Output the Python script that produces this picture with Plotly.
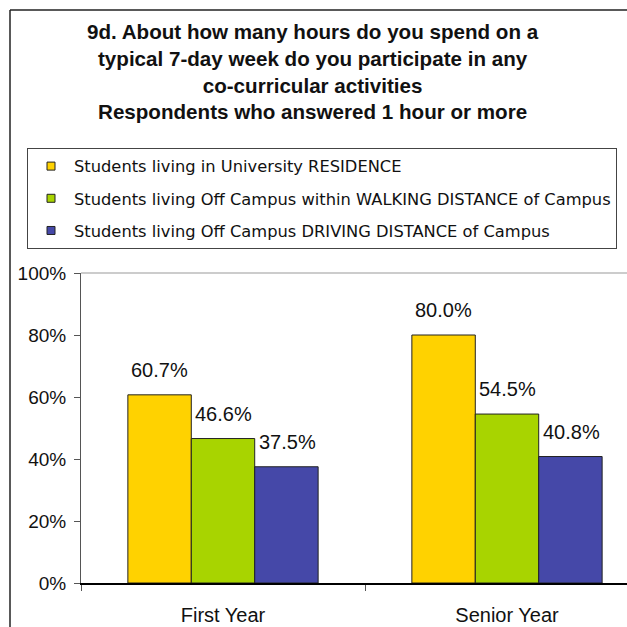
import plotly.graph_objects as go

categories = ["First Year", "Senior Year"]
series_names = [
    "Students living in University RESIDENCE",
    "Students living Off Campus within WALKING DISTANCE of Campus",
    "Students living Off Campus DRIVING DISTANCE of Campus",
]
residence = [60.7, 80.0]
walking = [46.6, 54.5]
driving = [37.5, 40.8]
y_ticks = [0, 20, 40, 60, 80, 100]
y_tick_labels = ["0%", "20%", "40%", "60%", "80%", "100%"]
title_lines = [
    "9d. About how many hours do you spend on a",
    "typical 7-day week do you participate in any",
    "co-curricular activities",
    "Respondents who answered 1 hour or more",
]

colors = ["#FFD200", "#A8D400", "#4548A8"]
series_values = [residence, walking, driving]

W, H = 627, 627
L, R, T, B = 81, 0, 273, 44
pw, ph = W - L - R, H - T - B

def px_x(p):
    return (p - L) / pw

def px_y(p):
    return (H - B - p) / ph

fig = go.Figure()
for name, vals, col in zip(series_names, series_values, colors):
    fig.add_trace(go.Bar(
        x=categories, y=vals, name=name, showlegend=False,
        marker=dict(color=col, line=dict(color="#222222", width=1)),
        hoverinfo="skip",
    ))
for i, (name, col) in enumerate(zip(series_names, colors)):
    fig.add_trace(go.Scatter(
        x=[None], y=[None], mode="markers", name=name, legendgroup=f"g{i}",
        marker=dict(symbol="square", size=8, color=col, line=dict(color="#222222", width=1)),
    ))

# data labels
bar_px = 64
offsets = [-bar_px, 0, bar_px]
for vals, off in zip(series_values, offsets):
    for c, v in zip(categories, vals):
        fig.add_annotation(
            x=c, y=v, xref="x", yref="y", text=f"{v:.1f}%", showarrow=False,
            xshift=off, yshift=12, yanchor="bottom",
            font=dict(family="Liberation Sans, Arial", size=20, color="#111111"),
        )

# title
fig.add_annotation(
    x=px_x(313), y=px_y(18), xref="paper", yref="paper",
    xanchor="center", yanchor="top", showarrow=False, align="center",
    text="<b>" + "<br>".join(title_lines) + "</b>",
    font=dict(family="Liberation Sans, Arial", size=20.6, color="#111111"),
)

# outer frame (left and top)
fig.add_shape(type="line", xref="paper", yref="paper",
              x0=px_x(10), x1=px_x(10), y0=px_y(10), y1=px_y(640),
              line=dict(color="#222222", width=1.5))
fig.add_shape(type="line", xref="paper", yref="paper",
              x0=px_x(10), x1=px_x(640), y0=px_y(10), y1=px_y(10),
              line=dict(color="#222222", width=1.5))
# plot-area top border
fig.add_shape(type="line", xref="paper", yref="paper",
              x0=0, x1=1, y0=1, y1=1, line=dict(color="#999999", width=1))

fig.update_layout(
    width=W, height=H,
    margin=dict(l=L, r=R, t=T, b=B),
    paper_bgcolor="white", plot_bgcolor="white",
    barmode="group", bargap=0.33, bargroupgap=0,
    font=dict(family="Liberation Sans, Arial", size=20, color="#111111"),
    legend=dict(
        x=px_x(27), y=px_y(148), xanchor="left", yanchor="top",
        bordercolor="#444444", borderwidth=1, bgcolor="white",
        font=dict(family="DejaVu Sans", size=16.3, color="#111111"),
        tracegroupgap=8, traceorder="grouped", itemwidth=36,
    ),
    xaxis=dict(
        range=[-0.5, -0.5 + 2 * pw / 568], showline=True, linecolor="#000000", linewidth=1.5,
        ticks="outside", tickson="boundaries", ticklen=6, tickcolor="#555555",
        showgrid=False, tickfont=dict(size=20), fixedrange=True,
        ticklabelstandoff=13, automargin=False,
    ),
    yaxis=dict(
        range=[0, 100], tickvals=y_ticks, ticktext=y_tick_labels,
        showline=True, linecolor="#555555", linewidth=1,
        ticks="outside", ticklen=6, tickcolor="#555555",
        showgrid=False, zeroline=False, tickfont=dict(size=19), fixedrange=True,
        ticklabelstandoff=4, automargin=False,
    ),
)

fig.write_html("out.html", config={"displayModeBar": False},
               post_script="document.body.style.margin='0';document.body.style.overflow='hidden';")
